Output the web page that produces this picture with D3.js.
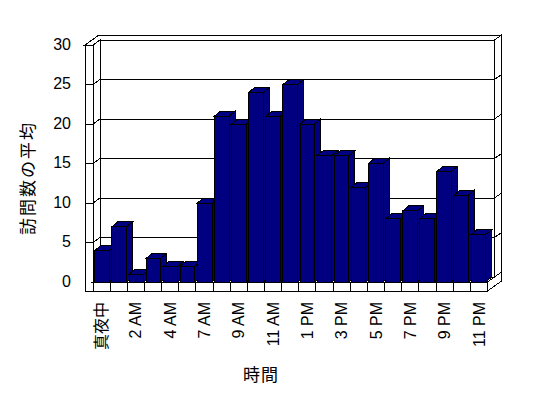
<!DOCTYPE html>
<html><head><meta charset="utf-8">
<script src="https://cdn.jsdelivr.net/npm/d3@7/dist/d3.min.js"></script>
<style>
html,body{margin:0;padding:0;background:#fff;}
svg{display:block;}
text{font-family:"Liberation Sans","Noto Sans CJK JP",sans-serif;fill:#000;}
</style></head>
<body>
<script>
const categories = ["真夜中","1 AM","2 AM","3 AM","4 AM","6 AM","7 AM","8 AM","9 AM","10 AM","11 AM","12 PM","1 PM","2 PM","3 PM","4 PM","5 PM","6 PM","7 PM","8 PM","9 PM","10 PM","11 PM"];
const values = [4,7,1,3,2,2,10,21,20,24,21,25,20,16,16,12,15,8,9,8,14,11,6];
const yTicks = [0,5,10,15,20,25,30];
const shownLabels = ["真夜中","2 AM","4 AM","7 AM","9 AM","11 AM","1 PM","3 PM","5 PM","7 PM","9 PM","11 PM"];
const yTitle = "訪問数の平均";
const xTitle = "時間";

const W = 548, H = 398;
const svg = d3.select("body").append("svg").attr("width", W).attr("height", H)
  .attr("shape-rendering", "crispEdges");

const xL = 93, xR = 487.5, wallOut = 85, floorBot = 291;
const dx = 7, dy = -5;        // wall depth unit
const bdx = 6, bdy = -5;      // bar depth
const y = d3.scaleLinear().domain([0, 30]).range([282, 45]);
const xBand = d3.scaleBand().domain(categories).range([xL, xR]).padding(0);
const xBar = d3.scaleBand().domain(categories).range([xL, xR]).paddingInner(0.15).paddingOuter(0.11);

const st = sel => sel.attr("fill", "#fff").attr("stroke", "#000").attr("stroke-width", 1);
const poly = pts => svg.append("polygon").attr("points", pts.map(p => p.join(",")).join(" "));

const yT = y(30), y0 = y(0);
// wall top face
st(poly([[wallOut, yT], [xL, yT], [xL + dx, yT + dy], [xR + dx, yT + dy], [xR + 2 * dx, yT + 2 * dy], [wallOut + 2 * dx, yT + 2 * dy]]));
// left wall front face
st(svg.append("rect").attr("x", wallOut).attr("y", yT).attr("width", xL - wallOut).attr("height", floorBot - yT));
// left wall inner face
st(poly([[xL, yT], [xL + dx, yT + dy], [xL + dx, y0 + dy], [xL, y0]]));
// back wall inner face
st(svg.append("rect").attr("x", xL + dx).attr("y", yT + dy).attr("width", xR - xL).attr("height", y0 - yT));
// back wall right end face
st(poly([[xR + dx, yT + dy], [xR + 2 * dx, yT + 2 * dy], [xR + 2 * dx, y0 + 2 * dy], [xR + dx, y0 + dy]]));
// floor top
st(poly([[xL, y0], [xR, y0], [xR + dx, y0 + dy], [xL + dx, y0 + dy]]));
// floor front face
st(svg.append("rect").attr("x", xL).attr("y", y0).attr("width", xR - xL).attr("height", floorBot - y0));
// floor right face
st(poly([[xR, y0], [xR, floorBot], [xR + 2 * dx, floorBot + 2 * dy], [xR + 2 * dx, y0 + 2 * dy], [xR + dx, y0 + dy]]));

// gridlines
const line = d3.line();
yTicks.filter(v => v > 0 && v < 30).forEach(v => {
  const yy = y(v);
  svg.append("path").attr("d", line([[wallOut, yy], [xL, yy], [xL + dx, yy + dy], [xR + dx, yy + dy], [xR + 2 * dx, yy + 2 * dy]]))
    .attr("fill", "none").attr("stroke", "#000");
});

// floor separators
categories.slice(1).forEach(c => {
  const xx = xBand(c);
  svg.append("line").attr("x1", xx).attr("x2", xx).attr("y1", y0).attr("y2", floorBot).attr("stroke", "#000");
});

// bars
const navy = "#000080";
const bars = svg.append("g");
categories.forEach((c, i) => {
  const v = values[i];
  const a = xBar(c), b = a + xBar.bandwidth(), t = y(v);
  const g = bars.append("g").attr("fill", navy).attr("stroke", "#000").attr("stroke-width", 1);
  g.append("polygon").attr("points", [[b, t], [b + bdx, t + bdy], [b + bdx, y0 + bdy], [b, y0]].map(p => p.join(",")).join(" "));
  g.append("polygon").attr("points", [[a, t], [b, t], [b + bdx, t + bdy], [a + bdx, t + bdy]].map(p => p.join(",")).join(" "));
  g.append("rect").attr("x", a).attr("y", t).attr("width", b - a).attr("height", y0 - t);
});

// y axis labels
const yAxis = d3.axisLeft(y).tickValues(yTicks).tickSize(0).tickPadding(14);
const gy = svg.append("g").attr("transform", `translate(${wallOut},-1)`).call(yAxis);
gy.select(".domain").remove();
gy.selectAll("text").attr("font-size", 16).attr("font-family", null).attr("fill", "#000");

// x axis labels
const xAxis = d3.axisBottom(xBand).tickValues(shownLabels).tickSize(0);
const gx = svg.append("g").attr("transform", `translate(0,${floorBot})`).call(xAxis);
gx.select(".domain").remove();
gx.selectAll("text")
  .attr("font-size", 16).attr("font-family", null).attr("fill", "#000")
  .attr("transform", "rotate(-90)")
  .attr("x", -11).attr("y", 0).attr("dy", "0.35em")
  .style("text-anchor", "end");

// titles
svg.append("text").attr("transform", "translate(28,178) rotate(-90)")
  .attr("text-anchor", "middle").attr("dy", "0.35em").attr("font-size", 17)
  .attr("letter-spacing", 2).text(yTitle);
svg.append("text").attr("x", 261).attr("y", 375)
  .attr("text-anchor", "middle").attr("dy", "0.35em").attr("font-size", 17)
  .attr("letter-spacing", 1).text(xTitle);
</script>
</body></html>
